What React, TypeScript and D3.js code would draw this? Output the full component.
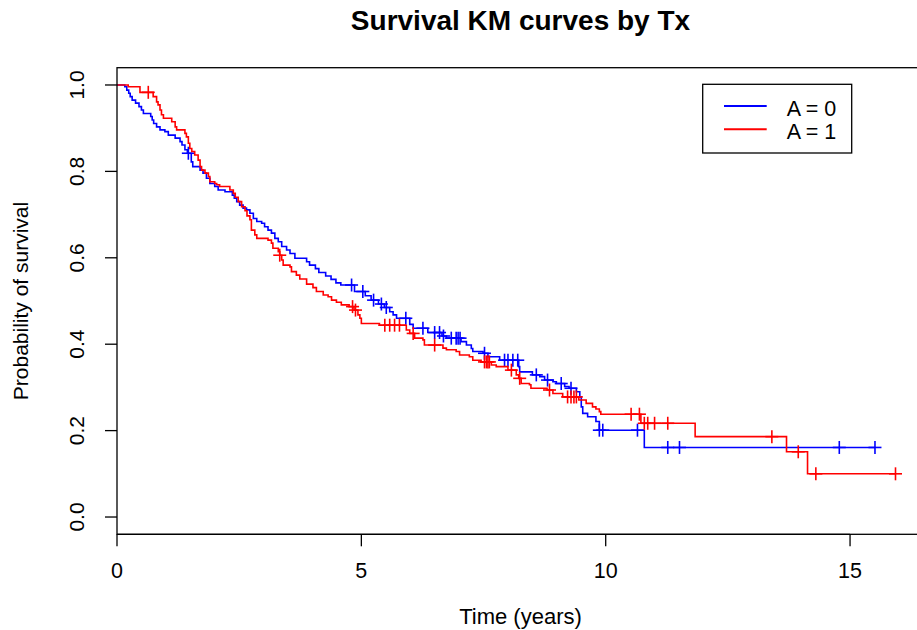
import React from "react";
import * as d3 from "d3";

const title = "Survival KM curves by Tx";
const xLabel = "Time (years)";
const yLabel = "Probability of survival";
const xTicks = [0, 5, 10, 15];
const yTicks = [0, 0.2, 0.4, 0.6, 0.8, 1.0];
const groupNames = ["A = 0", "A = 1"];
const groupColors = ["#0000FF", "#FF0000"];

const blueTimes = [0.16,0.20,0.24,0.27,0.31,0.38,0.45,0.50,0.54,0.69,0.72,0.75,0.81,0.88,0.98,1.05,1.19,1.29,1.33,1.39,1.44,1.52,1.55,1.70,1.76,1.83,1.90,2.00,2.07,2.21,2.36,2.40,2.45,2.51,2.58,2.65,2.72,2.79,2.86,2.96,3.02,3.09,3.16,3.23,3.30,3.37,3.47,3.54,3.64,3.88,3.94,4.06,4.13,4.27,4.38,4.48,4.58,4.86,5.08,5.20,5.35,5.47,5.58,5.65,5.72,5.99,6.06,6.36,6.65,6.74,7.04,7.15,7.25,7.28,7.49,7.59,7.83,8.22,8.24,8.50,8.65,8.75,8.92,8.99,9.16,9.25,9.40,9.47,9.50,9.53,9.63,9.80,9.87,10.79];
const blueSurv = [0.996,0.988,0.981,0.973,0.965,0.958,0.950,0.942,0.934,0.927,0.919,0.911,0.903,0.896,0.892,0.884,0.877,0.869,0.861,0.850,0.842,0.822,0.811,0.803,0.796,0.784,0.772,0.765,0.757,0.753,0.745,0.738,0.730,0.722,0.715,0.711,0.703,0.691,0.684,0.680,0.672,0.664,0.657,0.645,0.637,0.626,0.618,0.610,0.599,0.591,0.583,0.575,0.566,0.558,0.550,0.542,0.537,0.522,0.512,0.502,0.493,0.485,0.475,0.468,0.460,0.446,0.437,0.427,0.419,0.414,0.406,0.398,0.390,0.383,0.379,0.371,0.363,0.348,0.336,0.329,0.325,0.317,0.313,0.309,0.302,0.298,0.290,0.278,0.255,0.240,0.232,0.221,0.201,0.161];
const blueCensor = [1.46,4.80,5.03,5.25,5.41,5.51,5.91,6.26,6.50,6.60,6.68,6.84,6.94,6.98,7.02,7.52,7.93,8.00,8.10,8.20,8.58,8.81,9.09,9.29,9.87,9.94,10.65,11.27,11.51,14.78,15.51];

const redTimes = [0.23,0.47,0.74,0.81,0.84,0.88,0.91,0.95,1.12,1.19,1.22,1.39,1.42,1.46,1.49,1.53,1.59,1.66,1.70,1.73,1.80,1.87,1.90,2.00,2.04,2.10,2.31,2.38,2.42,2.48,2.55,2.62,2.66,2.72,2.75,2.82,2.86,3.09,3.16,3.19,3.30,3.33,3.37,3.40,3.54,3.57,3.67,3.74,3.88,4.01,4.08,4.22,4.32,4.39,4.49,4.59,4.75,4.85,4.93,4.97,5.00,5.37,5.92,5.99,6.09,6.26,6.29,6.67,6.74,6.94,7.01,7.21,7.28,7.45,7.66,7.76,8.00,8.17,8.22,8.27,8.44,8.47,8.80,8.92,9.12,9.45,9.60,9.73,9.80,9.87,9.90,10.72,11.83,13.70,14.13];
const redSurv = [0.996,0.983,0.973,0.961,0.954,0.942,0.931,0.923,0.915,0.903,0.896,0.888,0.880,0.865,0.853,0.846,0.838,0.826,0.811,0.803,0.796,0.788,0.776,0.772,0.769,0.765,0.757,0.749,0.740,0.730,0.718,0.709,0.697,0.688,0.664,0.653,0.645,0.641,0.634,0.622,0.614,0.606,0.595,0.583,0.579,0.568,0.560,0.551,0.539,0.531,0.522,0.514,0.510,0.502,0.497,0.491,0.487,0.479,0.468,0.460,0.448,0.444,0.433,0.425,0.414,0.410,0.398,0.391,0.387,0.383,0.375,0.371,0.363,0.359,0.352,0.348,0.340,0.329,0.321,0.309,0.306,0.298,0.294,0.286,0.278,0.271,0.263,0.255,0.250,0.244,0.238,0.217,0.186,0.151,0.100];
const redCensor = [0.64,3.33,4.82,4.88,5.48,5.58,5.68,5.78,6.06,6.50,7.52,7.56,7.59,7.62,8.07,8.24,8.85,9.22,9.29,9.35,9.40,10.52,10.69,10.79,10.86,11.00,11.27,13.40,13.94,14.30,15.93];

const W = 917;
const H = 630;
const FONT = "'Liberation Sans', Arial, Helvetica, sans-serif";

function stepValue(times: number[], surv: number[], t: number) {
  let s = 1;
  for (let i = 0; i < times.length; i++) {
    if (times[i] <= t + 1e-9) s = surv[i];
    else break;
  }
  return s;
}

export default function App() {
  const x = d3.scaleLinear().domain([0, 16.64]).range([117, 930.2]);
  const y = d3.scaleLinear().domain([-0.04, 1.04]).range([534.3, 67.7]);

  const groups = [
    { times: blueTimes, surv: blueSurv, censor: blueCensor, color: groupColors[0] },
    { times: redTimes, surv: redSurv, censor: redCensor, color: groupColors[1] },
  ];

  const line = d3
    .line<[number, number]>()
    .x((d) => x(d[0]))
    .y((d) => y(d[1]))
    .curve(d3.curveStepAfter);

  const arm = 6.5;

  return (
    <svg
      width={W}
      height={H}
      style={{ position: "absolute", left: 0, top: 0, background: "#fff" }}
      fontFamily={FONT}
    >
      <rect x={0} y={0} width={W} height={H} fill="#fff" />
      <text x={520.5} y={29.5} textAnchor="middle" fontWeight="bold" fontSize={28} fill="#000">
        {title}
      </text>

      {groups.map((g, gi) => {
        const end = d3.max(g.censor.concat(g.times)) as number;
        const pts: [number, number][] = [[0, 1]];
        g.times.forEach((t, i) => pts.push([t, g.surv[i]]));
        pts.push([end, g.surv[g.surv.length - 1]]);
        return (
          <g key={gi}>
            <path d={line(pts) || ""} fill="none" stroke={g.color} strokeWidth={1.6} />
            {g.censor.map((c, ci) => {
              const cx = x(c);
              const cy = y(stepValue(g.times, g.surv, c));
              return (
                <g key={ci} stroke={g.color} strokeWidth={1.6}>
                  <line x1={cx - arm} x2={cx + arm} y1={cy} y2={cy} />
                  <line x1={cx} x2={cx} y1={cy - arm} y2={cy + arm} />
                </g>
              );
            })}
          </g>
        );
      })}

      <rect
        x={x(0)}
        y={y(1.04)}
        width={x(16.64) - x(0)}
        height={y(-0.04) - y(1.04)}
        fill="none"
        stroke="#000"
        strokeWidth={1.3}
      />

      {xTicks.map((t) => (
        <g key={t}>
          <line x1={x(t)} x2={x(t)} y1={y(-0.04)} y2={y(-0.04) + 12} stroke="#000" strokeWidth={1.3} />
          <text x={x(t)} y={577.5} textAnchor="middle" fontSize={21.5} fill="#000">
            {String(t)}
          </text>
        </g>
      ))}
      <line x1={x(0)} x2={x(15)} y1={y(-0.04)} y2={y(-0.04)} stroke="#000" strokeWidth={1.3} />

      {yTicks.map((v) => (
        <g key={v}>
          <line x1={x(0) - 12} x2={x(0)} y1={y(v)} y2={y(v)} stroke="#000" strokeWidth={1.3} />
          <text
            transform={`translate(84,${y(v)}) rotate(-90)`}
            textAnchor="middle"
            fontSize={21}
            fill="#000"
          >
            {v.toFixed(1)}
          </text>
        </g>
      ))}

      <text x={520.5} y={623.5} textAnchor="middle" fontSize={22} fill="#000">
        {xLabel}
      </text>
      <text
        transform={`translate(28,${(y(0) + y(1)) / 2}) rotate(-90)`}
        textAnchor="middle"
        fontSize={21}
        fill="#000"
      >
        {yLabel}
      </text>

      <rect x={702.7} y={84.3} width={149} height={68.7} fill="#fff" stroke="#000" strokeWidth={1.3} />
      {groupNames.map((name, i) => {
        const ly = 106 + i * 23.3;
        return (
          <g key={name}>
            <line x1={724} x2={766.7} y1={ly} y2={ly} stroke={groupColors[i]} strokeWidth={2} />
            <text x={786.7} y={ly + 9.5} fontSize={21.5} fill="#000">
              {name}
            </text>
          </g>
        );
      })}
    </svg>
  );
}
